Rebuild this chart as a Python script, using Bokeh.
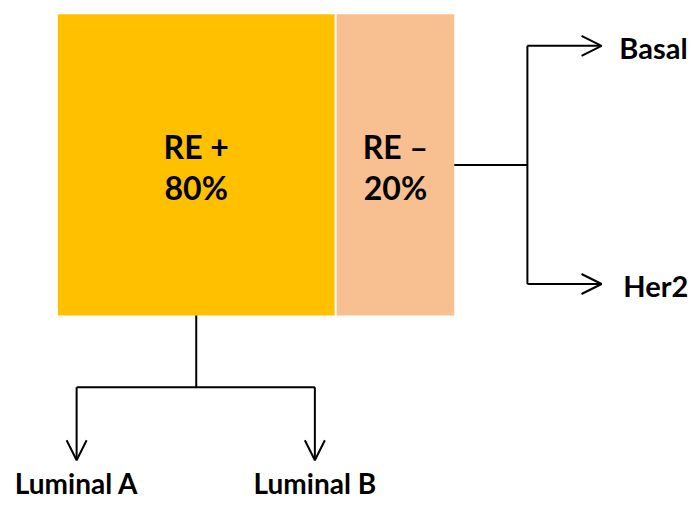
from bokeh.plotting import figure
from bokeh.models import Range1d, Arrow, OpenHead
from bokeh.core.properties import value
from bokeh.embed import file_html
from bokeh.resources import INLINE

# ---- data ----
groups = ["RE +", "RE –"]
shares = ["80%", "20%"]
colors = ["#FFC000", "#F8C090"]
re_pos_subtypes = ["Luminal A", "Luminal B"]
re_neg_subtypes = ["Basal", "Her2"]

# ---- layout (reference-pixel coordinates) ----
W, H = 691, 505
p = figure(width=W, height=H, output_backend="svg", toolbar_location=None,
           x_range=Range1d(0, 699), y_range=Range1d(513, 0),
           min_border=0)
p.axis.visible = False
p.grid.visible = False
p.outline_line_color = None
p.background_fill_color = "white"

box_left = [58, 340]
box_right = [338, 459]
top, bottom = 14, 320
p.quad(left=box_left, right=box_right, top=[top] * 2, bottom=[bottom] * 2,
       fill_color=colors, line_color=None)

font = value("Lato")
cx = [(l + r) / 2 for l, r in zip(box_left, box_right)]
p.text(x=cx, y=[148] * 2, text=groups, text_font=font, text_font_style="bold",
       text_font_size="32px", text_align="center", text_baseline="middle", text_color="black")
p.text(x=cx, y=[190] * 2, text=shares, text_font=font, text_font_style="bold",
       text_font_size="32px", text_align="center", text_baseline="middle", text_color="black")

lw = 2
# right connector
p.segment(x0=[459, 533], y0=[167, 46], x1=[533, 533], y1=[167, 288], line_color="black", line_width=lw)
for y in [46, 288]:
    p.add_layout(Arrow(x_start=533, y_start=y, x_end=608, y_end=y, line_width=lw, line_color="black",
                       end=OpenHead(size=20, line_width=lw, line_color="black")))
p.text(x=[626, 630], y=[48, 290], text=re_neg_subtypes, text_font=font, text_font_style="bold",
       text_font_size="29px", text_align="left", text_baseline="middle", text_color="black")

# bottom connector
p.segment(x0=[198, 77], y0=[320, 393], x1=[198, 318], y1=[393, 393], line_color="black", line_width=lw)
bx = [77, 318]
for x in bx:
    p.add_layout(Arrow(x_start=x, y_start=393, x_end=x, y_end=467, line_width=lw, line_color="black",
                       end=OpenHead(size=20, line_width=lw, line_color="black")))
p.text(x=bx, y=[490, 490], text=re_pos_subtypes, text_font=font, text_font_style="bold",
       text_font_size="28px", text_align="center", text_baseline="middle", text_color="black")

open("out.html", "w").write(file_html(p, INLINE))
